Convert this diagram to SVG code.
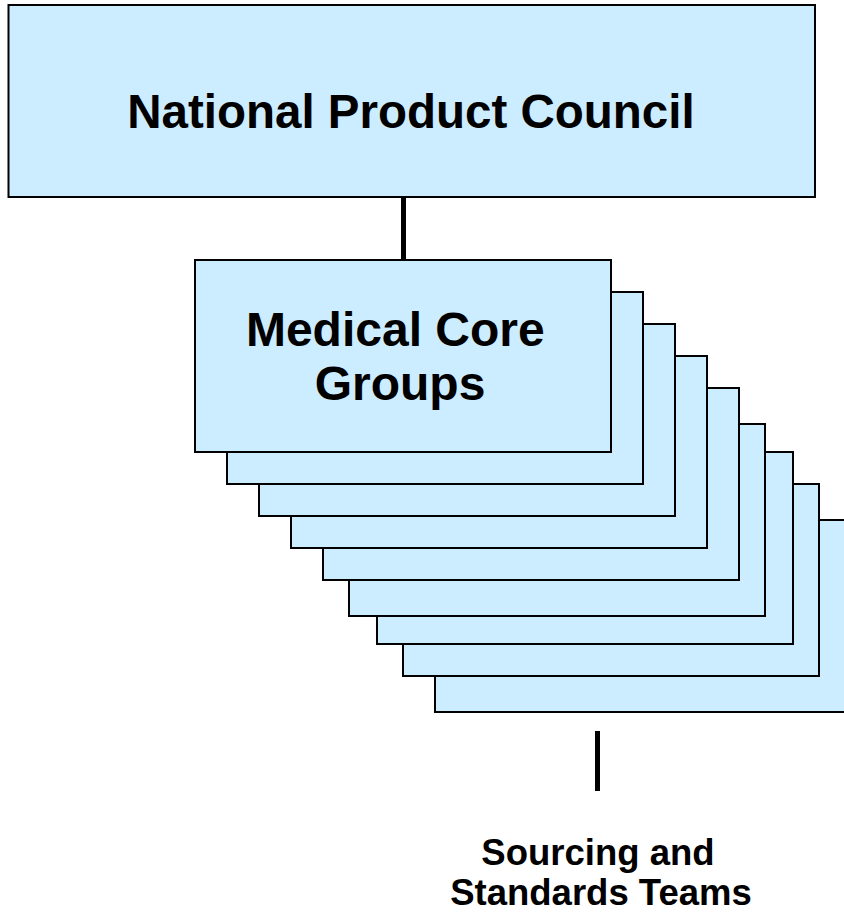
<svg xmlns="http://www.w3.org/2000/svg" width="844" height="914" viewBox="0 0 844 914">
  <style>
    .box { fill: #CCECFF; stroke: #000000; stroke-width: 2; }
    .lbl { font-family: "Liberation Sans", Arial, sans-serif; font-weight: bold; fill: #000000; text-anchor: middle; }
    .conn { stroke: #000000; stroke-width: 5; fill: none; }
  </style>
  <rect width="844" height="914" fill="#FFFFFF"/>

  <g id="connectors">
    <line class="conn" x1="403.5" y1="197" x2="403.5" y2="260"/>
    <line class="conn" x1="597.5" y1="731" x2="597.5" y2="791"/>
  </g>

  <g id="national-product-council">
    <rect class="box" x="8.5" y="5" width="806.5" height="192"/>
    <text class="lbl" x="411" y="128" font-size="47.5">National Product Council</text>
  </g>

  <!-- stack of core group cards, back to front -->
  <g id="core-group-stack">
    <rect class="box" x="435" y="520" width="416" height="192"/>
    <rect class="box" x="403" y="484" width="416" height="192"/>
    <rect class="box" x="377" y="452" width="416" height="192"/>
    <rect class="box" x="349" y="424" width="416" height="192"/>
    <rect class="box" x="323" y="388" width="416" height="192"/>
    <rect class="box" x="291" y="356" width="416" height="192"/>
    <rect class="box" x="259" y="324" width="416" height="192"/>
    <rect class="box" x="227" y="292" width="416" height="192"/>
  </g>

  <g id="medical-core-groups">
    <rect class="box" x="195" y="260" width="416" height="192"/>
    <text class="lbl" font-size="48">
      <tspan x="402" y="346">Medical Core</tspan>
      <tspan x="400" y="400">Groups</tspan>
    </text>
  </g>

  <g id="sourcing-standards-teams">
    <text class="lbl" font-size="36.5">
      <tspan x="603" y="865">Sourcing and</tspan>
      <tspan x="601" y="905">Standards Teams</tspan>
    </text>
  </g>
</svg>
